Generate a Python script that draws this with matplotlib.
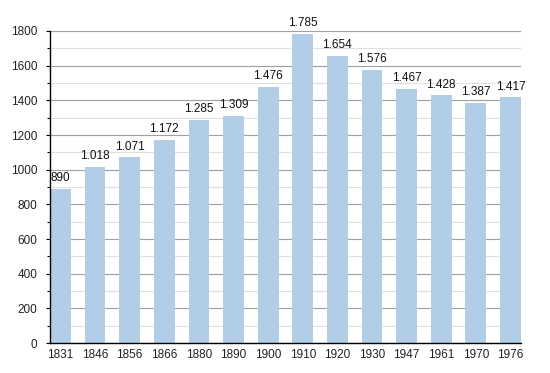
import matplotlib.pyplot as plt
from matplotlib.ticker import MultipleLocator

years = ['1831', '1846', '1856', '1866', '1880', '1890', '1900',
         '1910', '1920', '1930', '1947', '1961', '1970', '1976']
population = [890, 1018, 1071, 1172, 1285, 1309, 1476,
              1785, 1654, 1576, 1467, 1428, 1387, 1417]

plt.rcParams['font.family'] = ['Liberation Sans', 'DejaVu Sans']

fig = plt.figure(figsize=(5.5, 3.73), dpi=100)
ax = fig.add_axes([0.091, 0.0804, 0.856, 0.8365])

x = range(len(years))
ax.bar(x, population, width=0.6, color='#b1cde7', zorder=2)

for i, v in zip(x, population):
    label = f'{v:,}'.replace(',', '.')
    ax.annotate(label, xy=(i, v), xytext=(0, 3.5), textcoords='offset points',
                ha='center', va='bottom', fontsize=8.5, color='#111111')

ax.set_xlim(-0.3, len(years) - 0.7)
ax.set_ylim(0, 1800)
ax.set_xticks(list(x))
ax.set_xticklabels(years, fontsize=8.5, color='#222222')
ax.yaxis.set_major_locator(MultipleLocator(200))
ax.yaxis.set_minor_locator(MultipleLocator(100))
ax.tick_params(axis='y', labelsize=8.5, labelcolor='#222222', length=3, width=0.8, pad=6)
ax.tick_params(axis='y', which='minor', length=2, width=0.8)
ax.tick_params(axis='x', length=0, pad=4)

ax.grid(axis='y', which='major', color='#a0a0a0', linewidth=0.8, zorder=0)
ax.grid(axis='y', which='minor', color='#e0e0e0', linewidth=0.8, zorder=0)
ax.set_axisbelow(True)

for side in ['top', 'right']:
    ax.spines[side].set_visible(False)
ax.spines['left'].set_linewidth(1)
ax.spines['bottom'].set_linewidth(1)

plt.savefig('out.png', dpi=100)
